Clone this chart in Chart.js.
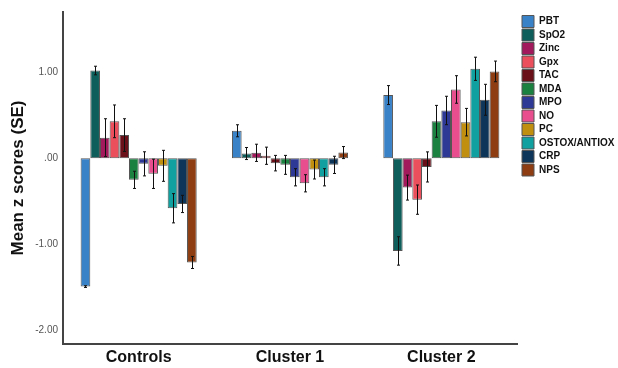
<!DOCTYPE html>
<html>
<head>
<meta charset="utf-8">
<script src="https://cdn.jsdelivr.net/npm/chart.js@4/dist/chart.umd.min.js"></script>
<style>
  html, body { margin: 0; padding: 0; background: #fff; }
  #wrap { width: 618px; height: 368px; }
</style>
</head>
<body>
<div id="wrap"><canvas id="zChart" width="618" height="368"></canvas></div>
<script>
// groups on the x axis
var groups = ["Controls", "Cluster 1", "Cluster 2"];
// one bar per marker inside each group
var markers = ["PBT", "SpO2", "Zinc", "Gpx", "TAC", "MDA", "MPO", "NO", "PC", "OSTOX/ANTIOX", "CRP", "NPS"];

// mean z scores, in marker order
var controlsMean = [-1.49, 1.02, 0.24, 0.43, 0.27, -0.25, -0.064, -0.18, -0.087, -0.58, -0.53, -1.21];
var cluster1Mean = [0.32, 0.056, 0.064, 0.03, -0.056, -0.076, -0.22, -0.29, -0.13, -0.22, -0.076, 0.067];
var cluster2Mean = [0.735, -1.076, -0.34, -0.48, -0.10, 0.43, 0.556, 0.80, 0.42, 1.04, 0.68, 1.01];

// standard errors, in marker order
var controlsSE = [0.01, 0.05, 0.22, 0.19, 0.19, 0.10, 0.14, 0.17, 0.18, 0.17, 0.10, 0.07];
var cluster1SE = [0.07, 0.07, 0.10, 0.10, 0.09, 0.11, 0.10, 0.10, 0.11, 0.10, 0.10, 0.07];
var cluster2SE = [0.11, 0.165, 0.145, 0.17, 0.175, 0.185, 0.165, 0.16, 0.16, 0.135, 0.18, 0.12];

var yTicks = [-2, -1, 0, 1];

var colors = ['#3a82c8', '#0e5f5b', '#a2195c', '#ea4f5b', '#6a1019', '#1b8141', '#2d3994',
              '#e84e8e', '#c18f0f', '#10a09f', '#0d3459', '#8d3d11'];

var datasets = markers.map(function(m, i) {
  return {
    label: m,
    data: [controlsMean[i], cluster1Mean[i], cluster2Mean[i]],
    se: [controlsSE[i], cluster1SE[i], cluster2SE[i]],
    backgroundColor: colors[i],
    borderColor: '#555',
    borderWidth: 1,
    borderSkipped: false,
    categoryPercentage: 0.767,
    barPercentage: 1.0
  };
});

// draws the +/- 1 SE whiskers
var errorBars = {
  id: 'errorBars',
  afterDatasetsDraw: function(chart) {
    var ctx = chart.ctx;
    var y = chart.scales.y;
    ctx.save();
    ctx.strokeStyle = '#111';
    ctx.lineWidth = 1;
    chart.data.datasets.forEach(function(ds, di) {
      var meta = chart.getDatasetMeta(di);
      meta.data.forEach(function(bar, j) {
        var v = ds.data[j], e = ds.se[j];
        var top = y.getPixelForValue(v + e);
        var bot = y.getPixelForValue(v - e);
        var x = Math.round(bar.x) + 0.5;
        ctx.beginPath();
        ctx.moveTo(x, top); ctx.lineTo(x, bot);
        ctx.moveTo(x - 1.5, top); ctx.lineTo(x + 1.5, top);
        ctx.moveTo(x - 1.5, bot); ctx.lineTo(x + 1.5, bot);
        ctx.stroke();
      });
    });
    ctx.restore();
  }
};

// keep the legend narrow so the plot runs out to ~517px, then nudge it
var legendSpot = {
  id: 'legendSpot',
  beforeLayout: function(chart) {
    var lg = chart.legend;
    if (lg && !lg.patched) {
      var fit = lg.fit;
      lg.fit = function() { fit.call(this); this.width = 101; };
      lg.patched = true;
    }
  },
  afterLayout: function(chart) {
    var lg = chart.legend;
    lg.left += 3.5;
    lg.right += 3.5;
    lg.top += 2;
  }
};

var ctx = document.getElementById('zChart').getContext('2d');
var chart = new Chart(ctx, {
  type: 'bar',
  data: {
    labels: groups,
    datasets: datasets
  },
  plugins: [errorBars, legendSpot],
  options: {
    responsive: false,
    animation: false,
    layout: { padding: { top: 12, right: 0, left: 4, bottom: 0 } },
    plugins: {
      legend: {
        position: 'right',
        align: 'start',
        labels: {
          boxWidth: 12,
          boxHeight: 12,
          padding: 1.5,
          color: '#111',
          font: { family: 'Liberation Sans, Arial, sans-serif', size: 10, weight: 'bold' }
        }
      },
      tooltip: { enabled: false }
    },
    scales: {
      x: {
        offset: true,
        grid: { display: false, drawTicks: false },
        border: { display: true, color: '#444', width: 2 },
        ticks: {
          padding: 4,
          color: '#111',
          font: { family: 'Liberation Sans, Arial, sans-serif', size: 16, weight: 'bold' }
        },
        afterFit: function(s) { s.height = 24; }
      },
      y: {
        min: -2.157,
        max: 1.70,
        grid: { display: false, drawTicks: false },
        border: { display: true, color: '#444', width: 2 },
        afterBuildTicks: function(s) {
          s.ticks = yTicks.map(function(v) { return { value: v }; });
        },
        ticks: {
          padding: 5,
          color: '#555',
          font: { family: 'Liberation Sans, Arial, sans-serif', size: 10 },
          callback: function(v) { return v === 0 ? '.00' : v.toFixed(2); }
        },
        title: {
          display: true,
          text: 'Mean z scores (SE)',
          color: '#111',
          padding: { top: 4, bottom: 4 },
          font: { family: 'Liberation Sans, Arial, sans-serif', size: 17, weight: 'bold' }
        },
        afterFit: function(s) { s.width = 59; }
      }
    }
  }
});
</script>
</body>
</html>
